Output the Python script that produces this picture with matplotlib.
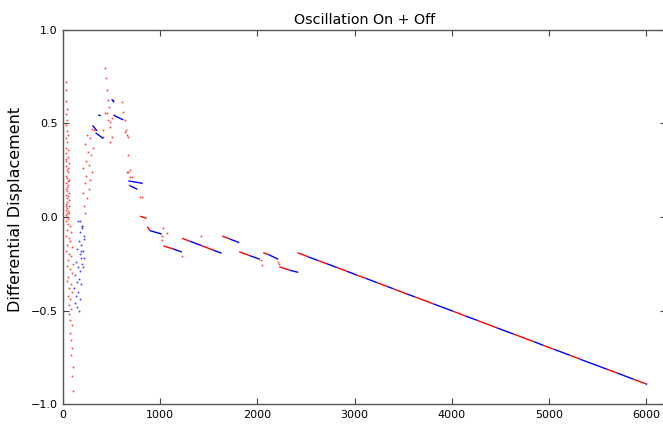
import numpy as np
import matplotlib
matplotlib.use('Agg')
import matplotlib.pyplot as plt

# Scattered samples while the system is still unsettled (red = on, blue = off)
on_x = [30, 35, 28, 40, 32, 45, 30, 38, 50, 27, 42, 33, 55, 29, 47, 36, 60, 31, 44, 52,
        28, 39, 58, 34, 48, 26, 42, 62, 31, 53, 37, 45, 28, 57, 40, 33, 50, 65, 29, 44,
        35, 48, 56, 38, 63, 30, 46, 53,
        35, 55, 70, 40, 85, 30, 60, 75, 45, 95, 35, 65, 80, 50, 100, 38, 70, 88, 55, 42,
        78, 62, 95, 48, 72, 58, 85, 66, 75, 90, 70, 80, 95, 85, 100, 92, 105,
        200, 230, 215, 250, 205, 265, 225, 280, 240, 300, 210, 270, 235, 290, 255, 310,
        225, 280, 250, 300,
        432, 439, 450, 460, 477, 432, 501, 483, 501, 483, 518, 604, 621, 638, 648, 672,
        672, 655, 690, 682, 792, 450, 466, 483, 415, 408, 638, 655, 690, 672, 707, 810,
        319,
        1025, 1073, 1015, 1015, 1221, 1419, 2033, 2043, 2214, 2222]
on_y = [0.72, 0.68, 0.62, 0.58, 0.55, 0.52, 0.49, 0.46, 0.44, 0.42, 0.40, 0.37, 0.36, 0.34,
        0.32, 0.30, 0.29, 0.27, 0.25, 0.24, 0.22, 0.21, 0.20, 0.18, 0.17, 0.15, 0.14, 0.13,
        0.12, 0.11, 0.10, 0.08, 0.07, 0.06, 0.05, 0.04, 0.03, 0.02, 0.01, 0.00,
        0.31, 0.26, 0.19, 0.16, 0.09, 0.06, 0.02, -0.01,
        -0.02, -0.04, -0.05, -0.07, -0.08, -0.10, -0.11, -0.13, -0.15, -0.16, -0.18, -0.20,
        -0.21, -0.23, -0.25, -0.26, -0.28, -0.30, -0.32, -0.34, -0.36, -0.38, -0.40, -0.42,
        -0.44, -0.47, -0.49, -0.52, -0.55, -0.58, -0.62, -0.66, -0.70, -0.74, -0.80, -0.85,
        -0.93,
        -0.05, 0.02, 0.06, 0.10, 0.13, 0.15, 0.18, 0.20, 0.22, 0.24, 0.26, 0.28, 0.30, 0.33,
        0.35, 0.37, 0.39, 0.42, 0.44, 0.47,
        0.795, 0.742, 0.679, 0.626, 0.590, 0.555, 0.528, 0.483, 0.429, 0.403, 0.626, 0.617,
        0.563, 0.519, 0.465, 0.429, 0.332, 0.242, 0.215, 0.171, 0.109, 0.555, 0.519, 0.510,
        0.465, 0.429, 0.456, 0.439, 0.251, 0.242, 0.215, 0.109,
        0.465,
        -0.060, -0.084, -0.102, -0.123, -0.209, -0.100, -0.230, -0.257, -0.239, -0.250]

off_x = [150, 200, 175, 215, 160, 190, 140, 205, 170, 185, 130, 195, 155, 175, 120, 165,
         145, 185, 115, 150, 135, 170, 125, 145, 160,
         175, 200, 215, 190, 220, 205]
off_y = [-0.02, -0.05, -0.08, -0.10, -0.13, -0.15, -0.17, -0.18, -0.20, -0.22, -0.24, -0.25,
         -0.27, -0.29, -0.31, -0.33, -0.35, -0.36, -0.38, -0.40, -0.42, -0.44, -0.46, -0.48,
         -0.50,
         -0.02, -0.06, -0.12, -0.18, -0.22, -0.27]

# Short straight runs (x0, y0, x1, y1)
on_runs = [(795, 0.004, 860, -0.007), (867, -0.052, 895, -0.073),
           (1032, -0.155, 1130, -0.170), (1227, -0.114, 1306, -0.130),
           (1426, -0.153, 1546, -0.177), (1638, -0.102, 1717, -0.118),
           (1813, -0.186, 1923, -0.207), (2060, -0.191, 2111, -0.200),
           (2225, -0.266, 2335, -0.285)]
off_runs = [(895, -0.073, 1015, -0.091), (1130, -0.170, 1222, -0.187),
            (1306, -0.130, 1426, -0.153), (1546, -0.177, 1632, -0.194),
            (1717, -0.118, 1813, -0.137), (1923, -0.207, 2026, -0.226),
            (2111, -0.200, 2214, -0.226), (2335, -0.285, 2420, -0.296),
            (305, 0.49, 350, 0.46), (335, 0.45, 415, 0.42),
            (363, 0.545, 388, 0.542), (518, 0.545, 621, 0.519),
            (501, 0.629, 525, 0.613), (673, 0.193, 820, 0.180),
            (690, 0.167, 765, 0.148)]

# Final steady drift; colour flips at each point, starting with "on"
drift_x = [2413, 2523, 2626, 2715, 2818, 2921, 3024, 3110, 3230, 3333, 3400, 3540, 3620,
           3813, 4019, 4139, 4259, 4465, 4636, 4842, 4945, 5048, 5220, 5323, 5597, 5700,
           5872, 5992, 6010]
drift_y = [-0.191, -0.213, -0.233, -0.250, -0.270, -0.290, -0.311, -0.327, -0.351, -0.371,
           -0.384, -0.412, -0.427, -0.465, -0.505, -0.529, -0.552, -0.593, -0.626, -0.666,
           -0.687, -0.707, -0.740, -0.761, -0.814, -0.834, -0.868, -0.891, -0.895]

ON = '#ff0000'
OFF = '#0000ff'

fig = plt.figure(figsize=(6.63, 4.28), dpi=100)
ax = fig.add_axes([0.095, 0.056, 0.909, 0.874])

ax.plot(on_x, on_y, ls='none', marker='o', ms=1.4, mew=0, color=ON, alpha=0.7)
ax.plot(off_x, off_y, ls='none', marker='o', ms=1.4, mew=0, color=OFF, alpha=0.7)

for x0, y0, x1, y1 in on_runs:
    ax.plot([x0, x1], [y0, y1], color=ON, lw=1.0, solid_capstyle='butt')
for x0, y0, x1, y1 in off_runs:
    ax.plot([x0, x1], [y0, y1], color=OFF, lw=1.0, solid_capstyle='butt')

for i in range(len(drift_x) - 1):
    c = ON if i % 2 == 0 else OFF
    ax.plot(drift_x[i:i + 2], drift_y[i:i + 2], color=c, lw=1.0, solid_capstyle='butt')

ax.set_xlim(0, 6200)
ax.set_ylim(-1.0, 1.0)
ax.set_xticks([0, 1000, 2000, 3000, 4000, 5000, 6000])
ax.set_yticks([-1.0, -0.5, 0.0, 0.5, 1.0])
ax.tick_params(direction='in', length=4, width=0.8, color='#444444',
               top=True, right=True, labelsize=8, pad=4)
for s in ax.spines.values():
    s.set_color('#555555')
    s.set_linewidth(1.0)

ax.set_title('Oscillation On + Off', fontsize=10.3, pad=4)
ax.set_ylabel('Differential Displacement', fontsize=11.5)
ax.yaxis.set_label_coords(-0.066, 0.52)

fig.savefig('out.png', dpi=100)
